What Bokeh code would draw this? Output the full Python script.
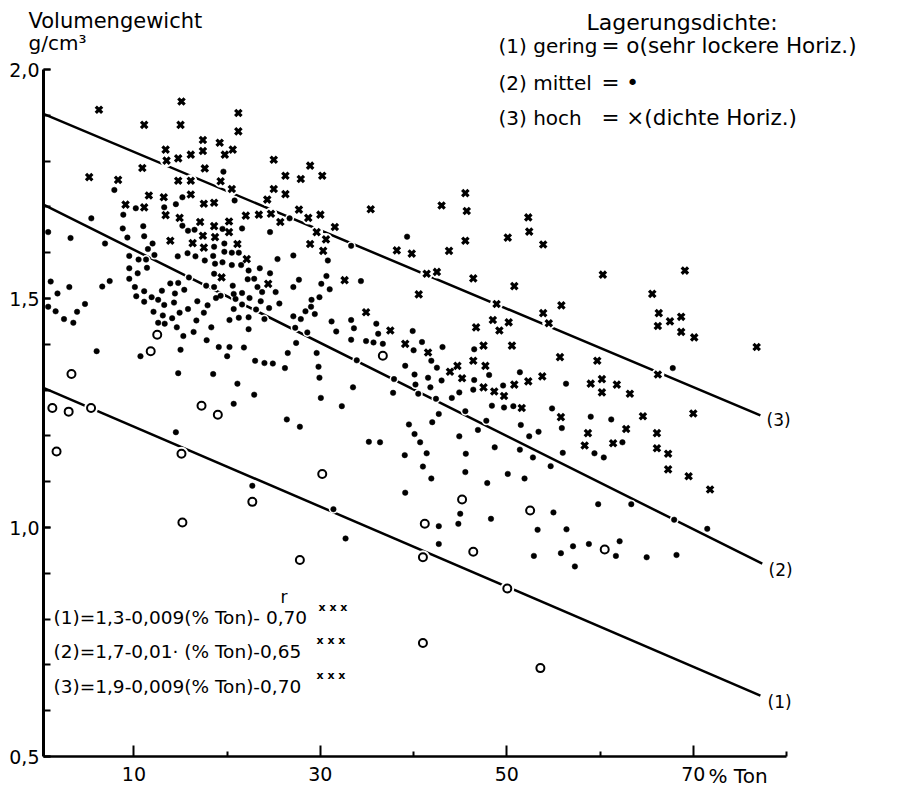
from bokeh.plotting import figure
from bokeh.models import FixedTicker, Label, LinearAxis
from bokeh.embed import file_html
from bokeh.resources import INLINE

# ---------------- data ----------------
cross_x = [6.25, 15.1, 21.2, 11.1, 15.0, 21.2, 17.4, 19.2, 13.4, 17.4, 20.6, 13.5, 14.75, 16.1, 19.75,
           10.9, 17.6, 25.0, 5.2, 8.3, 14.75, 16.1, 19.3, 26.25, 11.6, 13.2, 16.1, 17.5, 18.6, 20.5,
           25.0, 26.25, 9.1, 11.1, 13.4, 14.9, 24.3, 22.0, 23.4, 24.7, 25.7, 17.1, 18.6, 20.2, 17.4,
           18.7, 20.2, 13.9, 16.3, 17.5, 21.1, 22.1, 19.4, 24.4,
           28.9, 27.9, 30.2, 27.7, 28.7, 30.0, 35.4, 43.0, 45.55, 45.7, 52.3, 52.4, 29.6, 30.6, 31.55,
           28.9, 30.3, 38.2, 39.8, 43.8, 45.55, 50.1, 41.4, 42.5, 46.4, 50.8, 32.6, 40.55, 48.9, 34.9,
           37.5, 39.1, 41.55, 46.7, 48.5, 49.2, 50.2, 47.5, 50.55, 44.7, 43.9, 45.2, 46.4, 47.7, 47.5,
           48.65, 49.7, 50.8, 52.3,
           53.9, 60.3, 69.1, 65.6, 55.85, 53.9, 54.5, 66.3, 66.2, 67.5, 68.7, 68.7, 70.1, 76.8, 55.7,
           59.7, 53.8, 66.2, 59.0, 60.2, 60.2, 61.8, 63.2,
           51.6,
           55.8, 58.7, 58.35, 61.4, 62.8, 64.6, 66.1, 66.1, 67.3, 67.3, 69.5, 71.8, 70.0]
cross_y = [1.912, 1.930, 1.905, 1.879, 1.879, 1.865, 1.846, 1.840, 1.825, 1.822, 1.825, 1.801, 1.806, 1.814, 1.814,
           1.785, 1.784, 1.803, 1.765, 1.759, 1.757, 1.757, 1.756, 1.768, 1.725, 1.721, 1.727, 1.707, 1.709, 1.739,
           1.739, 1.728, 1.705, 1.699, 1.682, 1.676, 1.716, 1.681, 1.683, 1.685, 1.667, 1.667, 1.658, 1.668, 1.637,
           1.634, 1.645, 1.626, 1.621, 1.611, 1.619, 1.586, 1.546, 1.532,
           1.790, 1.761, 1.768, 1.694, 1.676, 1.683, 1.695, 1.703, 1.730, 1.691, 1.677, 1.646, 1.645, 1.629, 1.656,
           1.619, 1.604, 1.605, 1.598, 1.604, 1.626, 1.633, 1.554, 1.558, 1.544, 1.527, 1.540, 1.509, 1.488, 1.470,
           1.430, 1.401, 1.382, 1.437, 1.453, 1.430, 1.448, 1.397, 1.397, 1.353, 1.340, 1.326, 1.364, 1.353, 1.306,
           1.297, 1.287, 1.312, 1.319,
           1.618, 1.552, 1.561, 1.510, 1.485, 1.468, 1.446, 1.468, 1.440, 1.450, 1.460, 1.427, 1.415, 1.394, 1.372,
           1.364, 1.330, 1.334, 1.314, 1.324, 1.295, 1.312, 1.292,
           1.261,
           1.241, 1.206, 1.179, 1.184, 1.215, 1.243, 1.206, 1.173, 1.161, 1.127, 1.112, 1.083, 1.249]

dot_x = [19.6, 7.9, 15.2, 14.5, 13.25, 10.2, 20.8, 8.86, 5.43, 11.0, 15.2, 15.8, 16.5, 19.5, 21.6, 24.6,
         3.2, 6.9, 8.8, 9.3, 11.1, 12.0, 11.5, 9.5, 10.5, 11.3, 12.2, 14.7, 15.75, 16.6, 17.6, 18.5, 19.7,
         18.6, 19.7, 20.5, 21.25, 18.7, 19.5, 20.5, 21.5, 22.3, 23.5, 24.6, 25.4, 9.5, 10.4, 11.4, 9.5, 10.1,
         10.25, 11.1, 11.9, 11.1, 12.6, 13.0, 13.25, 13.9, 14.4, 14.75, 15.4, 14.3, 16.8, 17.75, 18.6, 17.9,
         18.8, 19.3, 20.6, 20.7, 21.6, 20.9, 21.6, 22.4, 22.2, 22.9, 23.25, 23.75, 23.6, 23.1, 24.5, 25.2,
         25.6, 1.07, 1.8, 3.07, 7.4, 6.6, 4.75, 3.9, 3.5, 2.5, 1.6, 0.8, 0.8, 12.1, 13.1, 14.1, 14.9, 15.8,
         16.7, 17.5, 18.3, 17.8, 20.7, 20.25, 21.25, 22.3, 22.3, 24.0, 12.6, 13.3, 14.6, 15.3, 16.4, 19.1,
         20.25, 21.8, 20.0, 23.0, 24.0, 24.9, 26.2, 26.5, 6.0, 10.7, 15.0, 14.75, 18.5, 21.1, 22.9, 15.9,
         18.6, 26.7,
         27.1, 33.3, 39.3, 30.8, 27.7, 27.1, 30.65, 30.1, 31.0, 34.35, 29.9, 29.05, 29.0, 28.4, 29.4, 27.1,
         27.9, 27.3, 28.6, 27.4, 31.2, 33.3, 31.7, 33.6, 36.0, 36.2, 33.3, 34.9, 35.7, 36.7, 39.9, 40.9,
         40.0, 43.1, 46.5, 29.6, 29.8, 29.9, 30.05, 33.5, 33.9, 37.9, 37.8, 39.1, 40.1, 40.2, 40.5, 41.55,
         41.8, 41.9, 42.5, 43.0, 42.4, 44.1, 44.9, 46.5, 46.4, 48.1, 49.6, 51.4,
         67.8, 56.35,
         14.5, 20.7, 26.4, 22.7,
         32.3, 27.8, 35.2, 36.4, 39.5, 40.1, 40.7, 39.05, 41.4, 41.0, 41.9, 39.1, 42.0, 42.7, 45.55, 48.4,
         49.7, 50.7, 47.8, 46.9, 44.9, 45.6, 48.7, 51.5, 52.4, 53.4, 51.4, 52.8, 45.55, 50.1, 51.9, 47.9,
         45.0, 44.8, 48.3, 42.7, 42.7, 53.3, 52.9, 31.4, 32.7,
         54.85, 55.9, 59.0, 61.2, 62.4, 59.4, 60.4, 56.0, 54.7, 59.8, 63.35, 55.0, 56.4, 67.95, 71.5, 57.1,
         58.8, 62.1, 55.8, 61.7, 65.0, 68.2, 57.3]
dot_y = [1.777, 1.737, 1.721, 1.706, 1.699, 1.697, 1.714, 1.683, 1.675, 1.658, 1.659, 1.648, 1.650, 1.652, 1.653, 1.645,
         1.632, 1.620, 1.653, 1.633, 1.636, 1.620, 1.608, 1.593, 1.585, 1.585, 1.595, 1.592, 1.599, 1.592, 1.583, 1.593, 1.620,
         1.613, 1.602, 1.600, 1.600, 1.576, 1.579, 1.573, 1.573, 1.561, 1.566, 1.555, 1.586, 1.566, 1.555, 1.567, 1.543, 1.525,
         1.505, 1.516, 1.503, 1.493, 1.497, 1.517, 1.486, 1.533, 1.511, 1.534, 1.519, 1.491, 1.494, 1.528, 1.554, 1.485,
         1.501, 1.506, 1.528, 1.510, 1.512, 1.499, 1.487, 1.501, 1.542, 1.543, 1.525, 1.514, 1.494, 1.476, 1.479, 1.514,
         1.489, 1.537, 1.511, 1.525, 1.538, 1.526, 1.488, 1.471, 1.447, 1.455, 1.472, 1.482, 1.645, 1.471, 1.463, 1.457, 1.469, 1.477,
         1.452, 1.469, 1.437, 1.409, 1.477, 1.453, 1.458, 1.459, 1.433, 1.455, 1.447, 1.445, 1.437, 1.418, 1.427, 1.394,
         1.394, 1.393, 1.374, 1.364, 1.359, 1.358, 1.348, 1.381, 1.385, 1.374, 1.388, 1.337, 1.335, 1.314, 1.290, 1.546,
         1.525, 1.675,
         1.594, 1.615, 1.635, 1.583, 1.541, 1.525, 1.549, 1.532, 1.520, 1.538, 1.503, 1.497, 1.482, 1.472, 1.466, 1.461,
         1.455, 1.436, 1.426, 1.403, 1.450, 1.453, 1.428, 1.435, 1.445, 1.423, 1.410, 1.407, 1.404, 1.401, 1.429, 1.405,
         1.387, 1.394, 1.389, 1.381, 1.351, 1.327, 1.283, 1.306, 1.365, 1.324, 1.294, 1.353, 1.334, 1.312, 1.292, 1.327,
         1.306, 1.364, 1.349, 1.321, 1.281, 1.283, 1.295, 1.322, 1.301, 1.333, 1.310, 1.339,
         1.348, 1.314,
         1.208, 1.270, 1.236, 1.091,
         1.265, 1.220, 1.187, 1.186, 1.225, 1.204, 1.186, 1.158, 1.162, 1.133, 1.107, 1.076, 1.230, 1.248, 1.254, 1.266,
         1.262, 1.265, 1.233, 1.213, 1.199, 1.161, 1.175, 1.224, 1.199, 1.209, 1.170, 1.153, 1.121, 1.117, 1.107, 1.097,
         1.030, 1.008, 1.019, 1.003, 0.964, 0.995, 0.938, 1.040, 0.976,
         1.260, 1.217, 1.242, 1.236, 1.186, 1.162, 1.153, 1.163, 1.134, 1.051, 1.051, 1.033, 0.996, 1.017, 0.997, 0.959,
         0.964, 0.970, 0.944, 0.938, 0.935, 0.940, 0.915]

circ_x = [12.5, 11.8, 3.3, 36.7, 1.25, 3.0, 5.4, 1.7, 15.1, 17.25, 19.0, 22.7, 15.2, 30.2, 27.8, 45.2,
          41.2, 52.5, 41.0, 46.4, 50.05, 41.0, 53.6, 60.5]
circ_y = [1.421, 1.385, 1.335, 1.375, 1.261, 1.253, 1.261, 1.166, 1.161, 1.266, 1.246, 1.056, 1.011, 1.117, 0.929, 1.061,
          1.008, 1.037, 0.935, 0.947, 0.867, 0.748, 0.693, 0.952]

# regression lines as drawn (start, end)
line1_x = [0.3, 77.2]
line1_y = [1.305, 0.633]
line2_x = [0.3, 77.4]
line2_y = [1.705, 0.921]
line3_x = [0.3, 77.2]
line3_y = [1.903, 1.245]

y_ticks = [0.5, 1.0, 1.5, 2.0]
y_tick_labels = ["0,5", "1,0", "1,5", "2,0"]
x_ticks = [10, 30, 50, 70]
x_tick_labels = ["10", "30", "50", "70"]

# ---------------- figure ----------------
AX0, AX1, AY0, AY1 = 0.3, 80.0, 0.5, 2.0
FL, FR, FT, FB = 43, 786, 69, 756
W, H = 903, 788
kx = (AX1 - AX0) / (FR - FL)
ky = (AY1 - AY0) / (FB - FT)
x_range = (AX0 - FL * kx, AX0 + (W - FL) * kx)
y_range = (AY0 - (H - FB) * ky, AY0 + FB * ky)

p = figure(width=W, height=H, x_range=x_range, y_range=y_range,
           x_axis_type=None, y_axis_type=None,
           output_backend="svg", toolbar_location=None, min_border=0)
p.outline_line_color = None
p.grid.visible = False
p.background_fill_color = "white"
p.border_fill_color = "white"

FONT = "DejaVu Sans"


def sx(px):
    return AX0 + (px - FL) * kx


def sy(py):
    return AY0 + (FB - py) * ky


# axes (real Bokeh axes, pinned at the axis origin)
xa = LinearAxis(fixed_location=AY0, bounds=(AX0, AX1))
xa.ticker = FixedTicker(ticks=x_ticks, minor_ticks=[20, 40, 60, 80])
xa.major_label_overrides = {t: l for t, l in zip(x_ticks, x_tick_labels)}
xa.axis_line_width = 2.5
xa.major_tick_in = 11
xa.major_tick_out = 0
xa.minor_tick_in = 5
xa.minor_tick_out = 0
xa.major_tick_line_width = 2
xa.minor_tick_line_width = 2
xa.major_label_text_font = FONT
xa.major_label_text_font_size = "19px"
xa.major_label_standoff = 10
xa.major_label_text_color = "black"
xa.axis_line_color = "black"
p.add_layout(xa, "below")

ya = LinearAxis(fixed_location=AX0, bounds=(AY0, AY1))
ya.ticker = FixedTicker(ticks=y_ticks, minor_ticks=[round(0.5 + 0.1 * i, 1) for i in range(16)])
ya.major_label_overrides = {t: l for t, l in zip(y_ticks, y_tick_labels)}
ya.axis_line_width = 3
ya.major_tick_in = 7
ya.major_tick_out = 0
ya.minor_tick_in = 7
ya.minor_tick_out = 0
ya.major_tick_line_width = 2
ya.minor_tick_line_width = 2
ya.major_label_text_font = FONT
ya.major_label_text_font_size = "19px"
ya.major_label_standoff = 4
ya.major_label_text_color = "black"
ya.axis_line_color = "black"
p.add_layout(ya, "left")

# lines
for lx, ly in ((line1_x, line1_y), (line2_x, line2_y), (line3_x, line3_y)):
    p.line(lx, ly, line_color="black", line_width=2.5)

# white halos (gaps in lines around points)
p.scatter(cross_x, cross_y, marker="circle", size=13, fill_color="white", line_color=None)
p.scatter(dot_x, dot_y, marker="circle", size=9, fill_color="white", line_color=None)
p.scatter(circ_x, circ_y, marker="circle", size=14, fill_color="white", line_color=None)

# markers
p.scatter(cross_x, cross_y, marker="x", size=9, line_color="black", line_width=3.2)
p.scatter(dot_x, dot_y, marker="circle", size=5.5, fill_color="black", line_color="black", line_width=0.5)
p.scatter(circ_x, circ_y, marker="circle", size=8, fill_color="white", line_color="black", line_width=2)


def lab(text, px, py, size, align="left", weight="normal"):
    p.add_layout(Label(x=sx(px), y=sy(py), text=text, text_font=FONT, text_font_size=size,
                       text_align=align, text_baseline="middle", text_color="black",
                       text_font_style=weight))


# axis titles
lab("Volumengewicht", 28, 20, "21px")
lab("g/cm³", 28, 42, "20px")
lab("% Ton", 708, 775, "20px")

# legend
lab("Lagerungsdichte:", 586, 22, "22px")
lab("(1) gering", 498, 45, "20px")
lab("= o(sehr lockere Horiz.)", 601, 45, "21.5px")
lab("(2) mittel", 498, 82, "20px")
lab("= •", 601, 82, "21.5px")
lab("(3) hoch", 498, 117, "20px")
lab("= ×(dichte Horiz.)", 601, 117, "21.5px")

# line labels
lab("(3)", 766, 419, "17px")
lab("(2)", 768, 569, "17px")
lab("(1)", 767, 701, "17px")

# formulas
lab("r", 280, 596, "17px")
lab("(1)=1,3-0,009(% Ton)- 0,70", 53, 617, "18.5px")
lab("(2)=1,7-0,01· (% Ton)-0,65", 53, 651, "18.5px")
lab("(3)=1,9-0,009(% Ton)-0,70", 53, 686, "18.5px")
lab("x x x", 318, 607, "11px", weight="bold")
lab("x x x", 316, 640, "11px", weight="bold")
lab("x x x", 316, 675, "11px", weight="bold")

open("out.html", "w").write(file_html(p, INLINE))
